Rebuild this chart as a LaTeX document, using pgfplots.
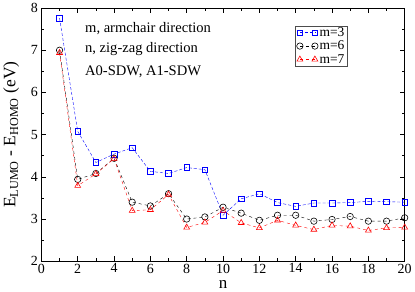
\documentclass[border=0pt]{standalone}
\usepackage{pgfplots}
\pgfplotsset{compat=1.18}
\usepackage{fontspec}
\setmainfont{Liberation Serif}
\begin{document}
\begin{tikzpicture}
\begin{axis}[
  scale only axis,
  width=363bp, height=253bp,
  xmin=0, xmax=20, ymin=2, ymax=8,
  xtick={0,2,...,20}, ytick={2,3,...,8},
  minor x tick num=1, minor y tick num=1,
  tick align=inside,
  major tick length=5bp, minor tick length=3bp,
  axis line style={black, line width=0.6pt},
  tick style={black, line width=0.5pt},
  /pgf/number format/assume math mode=true,
  tick label style={font=\fontsize{14}{14}\selectfont},
  xticklabel style={yshift=1bp},
  xlabel={n},
  ylabel={E$_{\mathrm{LUMO}}$ - E$_{\mathrm{HOMO}}$ (eV)},
  every axis x label/.style={at={(axis description cs:0.5,0)}, anchor=base, yshift=-27bp, font=\fontsize{17}{18}\selectfont},
  every axis y label/.style={at={(axis description cs:-0.083,0.5)}, rotate=90, anchor=center, font=\fontsize{17.5}{18}\selectfont},
  legend style={at={(axis description cs:0.698,0.93)}, anchor=north west,
    font=\fontsize{13.5}{13.5}\selectfont, draw=black!70, inner sep=1.5bp, row sep=3bp,
    nodes={inner ysep=0bp, inner xsep=1.5bp},
    /tikz/every even column/.append style={column sep=0bp}},
  legend cell align=left,
  legend image code/.code={\draw plot coordinates {(0bp,0bp)(15bp,0bp)};},
]
\addplot[blue, densely dashed, line width=0.4pt, mark=square, mark size=2.8bp, mark options={solid, line width=0.6pt}]
coordinates {(1,7.76)(2,5.08)(3,4.34)(4,4.54)(5,4.69)(6,4.13)(7,4.08)(8,4.22)(9,4.17)(10,3.09)
(11,3.48)(12,3.60)(13,3.39)(14,3.30)(15,3.38)(16,3.38)(17,3.39)(18,3.42)(19,3.41)(20,3.40)};
\addlegendentry{m=3}
\addplot[black, dashed, line width=0.4pt, mark=o, mark size=3.2bp, mark options={solid, line width=0.6pt}]
coordinates {(1,7.0)(2,3.94)(3,4.08)(4,4.44)(5,3.40)(6,3.31)(7,3.60)(8,3.0)(9,3.05)(10,3.28)
(11,3.14)(12,2.97)(13,3.09)(14,3.09)(15,2.95)(16,2.99)(17,3.06)(18,2.95)(19,2.95)(20,3.03)};
\addlegendentry{m=6}
\addplot[red, dashed, line width=0.4pt, mark=triangle, mark size=3.4bp, mark options={solid, line width=0.6pt}]
coordinates {(1,6.94)(2,3.79)(3,4.07)(4,4.43)(5,3.20)(6,3.22)(7,3.58)(8,2.80)(9,2.92)(10,3.20)
(11,2.91)(12,2.79)(13,2.97)(14,2.85)(15,2.75)(16,2.85)(17,2.83)(18,2.73)(19,2.79)(20,2.80)};
\addlegendentry{m=7}
\node[anchor=west, font=\fontsize{14.6}{15}\selectfont, inner sep=0pt] at (axis cs:2.4,7.51) {m, armchair direction};
\node[anchor=west, font=\fontsize{14.6}{15}\selectfont, inner sep=0pt] at (axis cs:2.4,7.04) {n, zig-zag direction};
\node[anchor=west, font=\fontsize{14.6}{15}\selectfont, inner sep=0pt] at (axis cs:2.4,6.49) {A0-SDW, A1-SDW};
\end{axis}
\end{tikzpicture}
\end{document}
